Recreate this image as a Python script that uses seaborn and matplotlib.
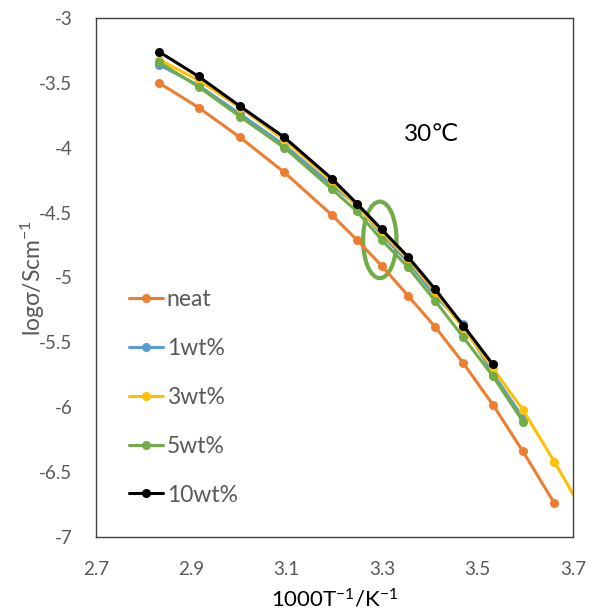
import numpy as np
import pandas as pd
import seaborn as sns
import matplotlib
matplotlib.use("Agg")
import matplotlib.pyplot as plt
from matplotlib.patches import Ellipse

sns.set_style("white")
plt.rcParams['font.family'] = ['Lato', 'DejaVu Sans']
plt.rcParams['mathtext.default'] = 'regular'

x_all = [2.832, 2.915, 3.002, 3.095, 3.195, 3.247, 3.299, 3.354, 3.411, 3.470, 3.532, 3.595, 3.661, 3.727]

neat = [-3.50, -3.69, -3.92, -4.19, -4.52, -4.71, -4.91, -5.14, -5.38, -5.66, -5.98, -6.34, -6.74]
wt1 = [-3.36, -3.52, -3.74, -3.98, -4.29, -4.44, -4.67, -4.88, -5.14, -5.36, -5.74, -6.08]
wt3 = [-3.32, -3.48, -3.69, -3.94, -4.26, -4.45, -4.65, -4.86, -5.11, -5.39, -5.70, -6.02, -6.42, -6.84]
wt5 = [-3.34, -3.53, -3.76, -4.00, -4.32, -4.49, -4.71, -4.92, -5.18, -5.46, -5.76, -6.11]
wt10 = [-3.26, -3.45, -3.68, -3.92, -4.24, -4.43, -4.63, -4.84, -5.09, -5.37, -5.67]

series_names = ["neat", "1wt%", "3wt%", "5wt%", "10wt%"]
series_vals = [neat, wt1, wt3, wt5, wt10]
colors = ["#ED7D31", "#5B9BD5", "#FFC000", "#70AD47", "#000000"]

xticks = [2.7, 2.9, 3.1, 3.3, 3.5, 3.7]
yticks = [-7, -6.5, -6, -5.5, -5, -4.5, -4, -3.5, -3]

rows = []
for name, vals in zip(series_names, series_vals):
    for xv, yv in zip(x_all, vals):
        rows.append({"x": xv, "y": yv, "series": name})
df = pd.DataFrame(rows)

fig = plt.figure(figsize=(5.95, 6.14), dpi=100)
ax = fig.add_axes([0.1613, 0.1254, 0.8017, 0.8453])

sns.lineplot(data=df, x="x", y="y", hue="series", hue_order=series_names,
             palette=dict(zip(series_names, colors)), marker="o", markersize=6.5,
             markeredgewidth=0, linewidth=2.2, sort=False, estimator=None, ax=ax)

ax.set_xlim(2.7, 3.7)
ax.set_ylim(-7, -3)
ax.set_xticks(xticks)
ax.set_xticklabels([f"{v:g}" for v in xticks])
ax.set_yticks(yticks)
ax.set_yticklabels([f"{v:g}" for v in yticks])
ax.tick_params(axis='both', length=0, labelsize=13.5, colors="#595959")
ax.tick_params(axis='x', pad=17)
ax.tick_params(axis='y', pad=17)
for sp in ax.spines.values():
    sp.set_visible(True)
    sp.set_color("#404040")
    sp.set_linewidth(1.0)

ax.set_xlabel("1000T$^{-1}$/K$^{-1}$", fontsize=16, color="#000000", labelpad=7)
ax.set_ylabel("logσ/Scm$^{-1}$", fontsize=16.5, color="#595959", labelpad=-6)

ell = Ellipse((3.295, -4.71), width=0.07, height=0.59, fill=False,
              edgecolor="#70AD47", linewidth=3)
ax.add_patch(ell)

ax.text(3.403, -3.9, "30℃", fontsize=17.5, color="#000000", ha="center", va="center")

handles, labels = ax.get_legend_handles_labels()
leg = ax.legend(handles, labels, loc="lower left", bbox_to_anchor=(0.05, 0.043),
                frameon=False, fontsize=16.5, labelcolor="#595959",
                handlelength=1.5, handletextpad=0.15, labelspacing=1.22,
                borderaxespad=0)

fig.savefig("out.png", dpi=100)
